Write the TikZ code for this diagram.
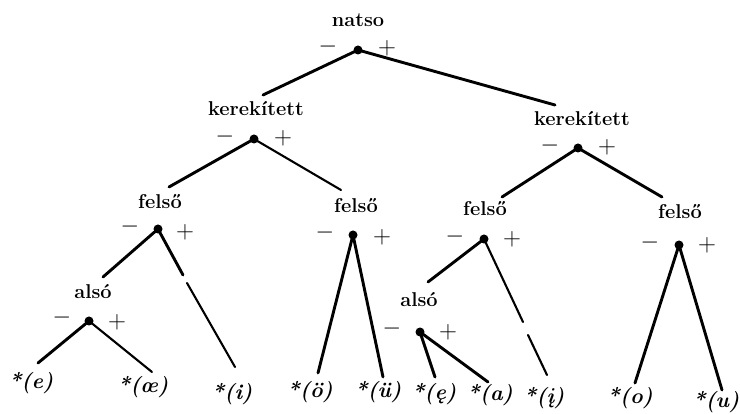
\documentclass[tikz,border=0pt]{standalone}
\tikzset{
  dot/.style={circle,fill=black,inner sep=0pt,minimum size=9pt},
  lab/.style={font=\fontsize{20}{24}\selectfont\bfseries,inner sep=0pt},
  leaf/.style={font=\fontsize{21.5}{25}\selectfont\bfseries\itshape,inner sep=0pt},
  sgn/.style={inner sep=0pt,font=\fontsize{20}{24}\selectfont},
  br/.style={line width=2.9pt,line cap=round},
  tn/.style={line width=2.1pt,line cap=round},
}
\newcommand{\mns}{\scalebox{1.15}{$-$}}
\newcommand{\pls}{\scalebox{1.2}{$+$}}
\begin{document}
\begin{tikzpicture}[x=1pt,y=-1pt]
\useasboundingbox (0,0) rectangle (740,414);
% root
\node[lab] (lr) at (358,20) {natso};
\node[dot] (r) at (358,50) {};
\node[sgn] (rm) at (328,47) {\mns};
\node[sgn] (rp) at (387,48) {\pls};
% left kerekitett
\node[lab] (lka) at (256,109) {kerekített};
\node[dot] (a) at (254,139) {};
\node[sgn] (am) at (225,137) {\mns};
\node[sgn] (ap) at (283,138) {\pls};
% right kerekitett
\node[lab] (lkb) at (582,119) {kerekített};
\node[dot] (b) at (578,148) {};
\node[sgn] (bm) at (550,146) {\mns};
\node[sgn] (bp) at (607,147) {\pls};
% felso c
\node[lab] (lc) at (160,202) {felső};
\node[dot] (c) at (158,229) {};
\node[sgn] (cm) at (130,227) {\mns};
\node[sgn] (cp) at (185,232) {\pls};
% also d
\node[lab] (ld) at (93,292) {alsó};
\node[dot] (d) at (89,321) {};
\node[sgn] (dm) at (62,318) {\mns};
\node[sgn] (dp) at (117,322) {\pls};
% felso e
\node[lab] (le) at (356,206) {felső};
\node[dot] (e) at (353,235) {};
\node[sgn] (em) at (325,233) {\mns};
\node[sgn] (ep) at (382,237) {\pls};
% felso f
\node[lab] (lf) at (485,209) {felső};
\node[dot] (f) at (484,239) {};
\node[sgn] (fm) at (455,237) {\mns};
\node[sgn] (fp) at (512,239) {\pls};
% also g
\node[lab] (lg) at (419,300) {alsó};
\node[dot] (g) at (420,332) {};
\node[sgn] (gm) at (392,329) {\mns};
\node[sgn] (gp) at (448,332) {\pls};
% felso h
\node[lab] (lh) at (680,212) {felső};
\node[dot] (h) at (679,245) {};
\node[sgn] (hm) at (650,243) {\mns};
\node[sgn] (hp) at (707,245) {\pls};
% leaves
\node[leaf] (n1) at (31,383) {*(e)};
\node[leaf] (n2) at (143,387) {*(œ)};
\node[leaf] (n3) at (232,394) {*(i)};
\node[leaf] (n4) at (310,392) {*(ö)};
\node[leaf] (n5) at (378,392) {*(ü)};
\node[leaf] (n6) at (434,394) {*(ę)};
\node[leaf] (n7) at (490,395) {*(a)};
\node[leaf] (n8) at (544,398) {*(į)};
\node[leaf] (n9) at (630,398) {*(o)};
\node[leaf] (n10) at (716,402) {*(u)};
% end coordinates
\coordinate (x1) at (263,95);
\coordinate (x2) at (555,105);
\coordinate (x3) at (169,187);
\coordinate (x4) at (341,190);
\coordinate (x5) at (502,197);
\coordinate (x6) at (662,197);
\coordinate (x7) at (103,277);
\coordinate (x8) at (183,275);
\coordinate (x8b) at (187,283);
\coordinate (x8c) at (235,367);
\coordinate (x9) at (38,363);
\coordinate (x10) at (152,372);
\coordinate (x11) at (318,373);
\coordinate (x12) at (383,377);
\coordinate (x13) at (428,282);
\coordinate (x14) at (523,322);
\coordinate (x14b) at (528,335);
\coordinate (x14c) at (547,375);
\coordinate (x15) at (435,377);
\coordinate (x16) at (488,382);
\coordinate (x17) at (635,383);
\coordinate (x18) at (722,390);
% branches
\draw[br] (r.center) -- (x1);
\draw[br] (r.center) -- (x2);
\draw[br] (a.center) -- (x3);
\draw[tn] (a.center) -- (x4);
\draw[br] (b.center) -- (x5);
\draw[br] (b.center) -- (x6);
\draw[br] (c.center) -- (x7);
\draw[br] (c.center) -- (x8);
\draw[tn] (x8b) -- (x8c);
\draw[br] (d.center) -- (x9);
\draw[tn] (d.center) -- (x10);
\draw[br] (e.center) -- (x11);
\draw[br] (e.center) -- (x12);
\draw[br] (f.center) -- (x13);
\draw[tn] (f.center) -- (x14);
\draw[tn] (x14b) -- (x14c);
\draw[br] (g.center) -- (x15);
\draw[br] (g.center) -- (x16);
\draw[br] (h.center) -- (x17);
\draw[br] (h.center) -- (x18);
\end{tikzpicture}
\end{document}
